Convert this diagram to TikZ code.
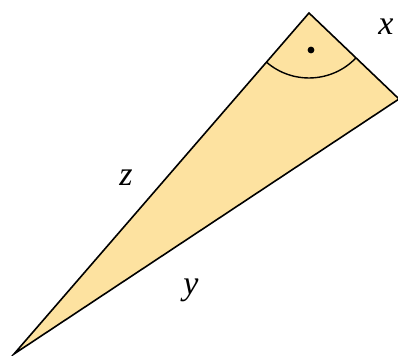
\documentclass[tikz,border=0pt]{standalone}
\usepackage{fontspec}
\setmainfont{Liberation Serif}
\definecolor{tri}{RGB}{253,226,160}
\begin{document}
\begin{tikzpicture}[x=0.5pt,y=0.5pt,
  edge/.style={draw=black,line width=0.8pt,line join=miter},
  lab/.style={font=\fontsize{17}{19}\selectfont\itshape,inner sep=0pt}]
\useasboundingbox (0,0) rectangle (398,356);
\coordinate (A) at (14,2);
\coordinate (B) at (309,343);
\coordinate (C) at (399,257);
\fill[tri] (A) -- (B) -- (C) -- cycle;
\draw[edge] (A) -- (B) -- (C) -- cycle;
\draw[line width=0.7pt] ([shift={(229.1:32.5pt)}]B) arc[start angle=229.1,end angle=316.3,radius=32.5pt];
\fill (311,306) circle[radius=1.7pt];
\node[lab] (x) at (386,329) {x};
\node[lab] (z) at (126,178) {z};
\node[lab] (y) at (191,66) {y};
\end{tikzpicture}
\end{document}
